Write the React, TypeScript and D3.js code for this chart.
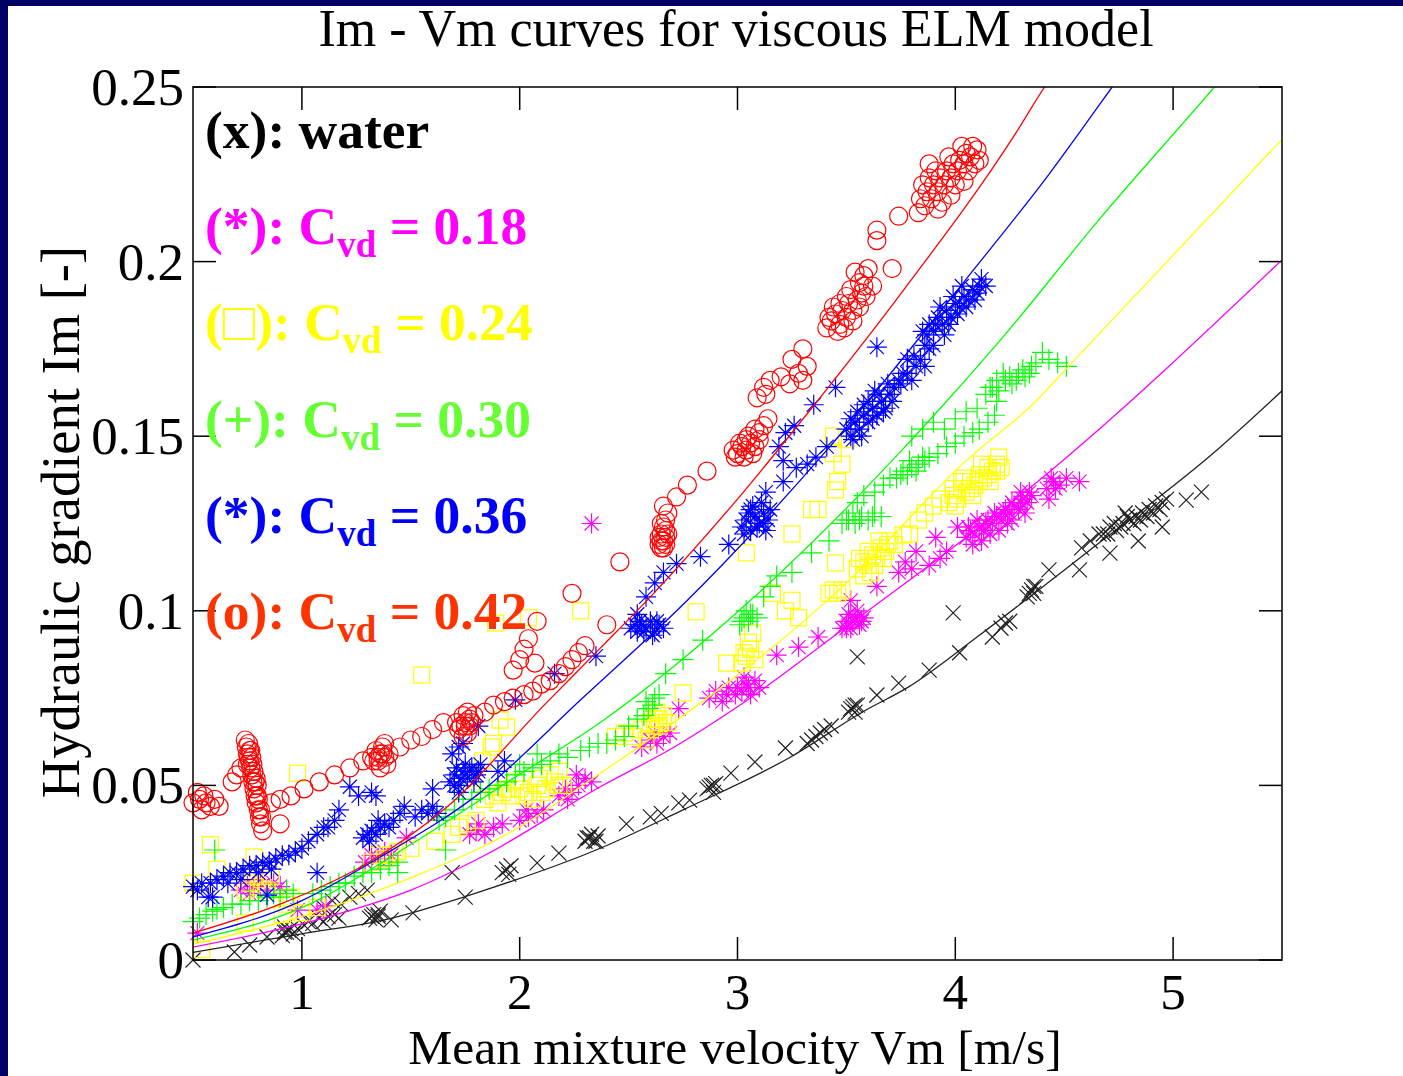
import React from 'react';
import * as d3 from 'd3';

type Pt = [number, number];

const W = 1403;
const H = 1076;

const xTicks = [1, 2, 3, 4, 5];
const yTicks = [0, 0.05, 0.1, 0.15, 0.2, 0.25];
const yTickLabels = ['0', '0.05', '0.1', '0.15', '0.2', '0.25'];

// measured points: [Vm, Im]
const water: Pt[] = [
  [0.5, 0.0], [0.69, 0.0023], [0.76, 0.0043], [0.84, 0.0066],
  [0.91, 0.007], [0.93, 0.008], [0.95, 0.009], [0.92, 0.0095], [0.96, 0.0075], [0.92, 0.008], [0.94, 0.0085],
  [0.98, 0.009], [1.01, 0.01], [1.03, 0.011], [1.05, 0.0105], [1.08, 0.012], [1.1, 0.011], [1.12, 0.0125], [1.15, 0.013], [1.17, 0.012],
  [1.1, 0.015], [1.14, 0.017], [1.18, 0.016], [1.22, 0.018], [1.26, 0.019], [1.3, 0.02],
  [1.31, 0.012], [1.33, 0.013], [1.35, 0.0125], [1.36, 0.014], [1.34, 0.0115], [1.32, 0.0125], [1.35, 0.013],
  [1.41, 0.0115], [1.51, 0.0135], [1.69, 0.025], [1.75, 0.018],
  [1.94, 0.026], [1.92, 0.025], [1.96, 0.027], [1.95, 0.0245], [2.08, 0.0278], [2.18, 0.0306],
  [2.3, 0.034], [2.32, 0.035], [2.34, 0.034], [2.36, 0.0355], [2.33, 0.036], [2.31, 0.035], [2.35, 0.034],
  [2.49, 0.039], [2.6, 0.041], [2.65, 0.042], [2.73, 0.045], [2.78, 0.0458],
  [2.86, 0.049], [2.88, 0.05], [2.89, 0.048], [2.9, 0.0505], [2.87, 0.0495], [2.89, 0.05],
  [2.97, 0.0535], [3.08, 0.0567], [3.22, 0.0607],
  [3.32, 0.062], [3.34, 0.063], [3.36, 0.064], [3.38, 0.065], [3.4, 0.066], [3.43, 0.067],
  [3.51, 0.071], [3.53, 0.0725], [3.55, 0.073], [3.54, 0.071], [3.52, 0.072], [3.54, 0.073],
  [3.55, 0.0868], [3.64, 0.0759], [3.74, 0.0793], [3.88, 0.083], [4.02, 0.088], [4.17, 0.0925],
  [4.21, 0.095], [4.23, 0.0965], [4.25, 0.097], [3.99, 0.0994],
  [4.33, 0.104], [4.35, 0.106], [4.37, 0.107], [4.36, 0.105], [4.34, 0.105], [4.36, 0.107],
  [4.43, 0.1117], [4.57, 0.1117], [4.71, 0.1165], [4.58, 0.118], [4.62, 0.12], [4.66, 0.122],
  [4.68, 0.122], [4.71, 0.124], [4.74, 0.123], [4.77, 0.125], [4.8, 0.126], [4.83, 0.127], [4.86, 0.128],
  [4.89, 0.129], [4.92, 0.13], [4.95, 0.131], [4.97, 0.132], [4.84, 0.12], [4.95, 0.124], [4.78, 0.128],
  [4.7, 0.122], [4.73, 0.125], [4.76, 0.124], [4.79, 0.127], [4.82, 0.125], [4.85, 0.126], [4.88, 0.127], [4.91, 0.128], [4.94, 0.129],
  [5.06, 0.1317], [5.13, 0.134],
];

const cvd18: Pt[] = [
  [0.52, 0.0077], [0.72, 0.02], [0.75, 0.022], [0.78, 0.021], [0.81, 0.023], [0.84, 0.02], [0.87, 0.022], [0.9, 0.021], [0.76, 0.019],
  [0.98, 0.0143], [1.07, 0.0143], [1.11, 0.0155], [1.29, 0.028], [1.32, 0.03], [1.35, 0.029], [1.38, 0.031], [1.41, 0.03], [1.48, 0.035],
  [1.77, 0.036], [1.8, 0.037], [1.84, 0.036], [1.88, 0.038], [1.92, 0.039], [1.81, 0.039],
  [2.0, 0.04], [2.04, 0.041], [2.08, 0.042], [2.11, 0.043], [2.03, 0.043],
  [2.18, 0.047], [2.21, 0.049], [2.24, 0.048], [2.27, 0.05], [2.3, 0.052], [2.33, 0.051], [2.26, 0.053], [2.22, 0.046],
  [2.56, 0.061], [2.6, 0.063], [2.63, 0.062], [2.66, 0.064], [2.69, 0.065], [2.62, 0.065],
  [2.33, 0.125], [2.73, 0.072],
  [2.87, 0.075], [2.9, 0.077], [2.93, 0.074], [2.96, 0.078], [2.99, 0.076], [3.02, 0.077], [3.04, 0.079], [3.06, 0.076], [3.08, 0.08], [3.1, 0.078], [3.03, 0.081],
  [3.0, 0.078], [3.05, 0.078], [2.95, 0.076],
  [3.18, 0.0873], [3.28, 0.0896], [3.37, 0.0925],
  [3.48, 0.095], [3.5, 0.097], [3.52, 0.095], [3.54, 0.098], [3.56, 0.096], [3.58, 0.098], [3.51, 0.099], [3.55, 0.1], [3.5, 0.095], [3.53, 0.097], [3.57, 0.097],
  [3.52, 0.103], [3.64, 0.107], [3.74, 0.111], [3.77, 0.114], [3.8, 0.112], [3.82, 0.117], [3.88, 0.113], [3.91, 0.121], [3.93, 0.115], [3.96, 0.117], [4.01, 0.124],
  [4.05, 0.121], [4.07, 0.123], [4.09, 0.122], [4.11, 0.124], [4.13, 0.123], [4.15, 0.126], [4.17, 0.125], [4.19, 0.127], [4.21, 0.126],
  [4.23, 0.129], [4.25, 0.128], [4.27, 0.13], [4.29, 0.129], [4.31, 0.132], [4.33, 0.131], [4.35, 0.133], [4.12, 0.12], [4.2, 0.123], [4.26, 0.126], [4.3, 0.134],
  [4.06, 0.124], [4.1, 0.126], [4.14, 0.125], [4.18, 0.128], [4.22, 0.128], [4.26, 0.131], [4.3, 0.131], [4.34, 0.134], [4.08, 0.119], [4.16, 0.122], [4.24, 0.125], [4.32, 0.128],
  [4.42, 0.135], [4.45, 0.137], [4.48, 0.136], [4.51, 0.138], [4.43, 0.132], [4.57, 0.137], [4.46, 0.135], [4.44, 0.138],
];

const cvd24: Pt[] = [
  [0.5, 0.022], [0.58, 0.033], [0.61, 0.026], [0.54, 0.003], [0.74, 0.0106], [0.74, 0.02], [0.76, 0.022], [0.78, 0.024], [0.8, 0.021],
  [0.82, 0.023], [0.84, 0.02], [0.86, 0.024], [0.78, 0.0295], [0.91, 0.013], [0.93, 0.016], [0.95, 0.018], [1.0, 0.0135], [1.07, 0.015], [0.98, 0.0535],
  [1.32, 0.028], [1.35, 0.03], [1.38, 0.029], [1.41, 0.03], [1.44, 0.031], [1.5, 0.032], [1.55, 0.0816], [1.61, 0.034], [1.69, 0.036], [1.72, 0.038], [1.76, 0.039], [1.8, 0.04],
  [1.78, 0.052], [1.83, 0.057], [1.87, 0.061], [1.88, 0.062], [1.91, 0.0687], [1.94, 0.0667], [1.89, 0.0965], [2.04, 0.098], [2.28, 0.1],
  [1.84, 0.046], [1.88, 0.047], [1.92, 0.048], [1.96, 0.047], [2.0, 0.049], [2.04, 0.048], [2.08, 0.05], [2.12, 0.049], [2.16, 0.051], [2.2, 0.05], [1.9, 0.045], [1.98, 0.051], [2.06, 0.046],
  [1.94, 0.049], [2.02, 0.047], [2.1, 0.048], [2.18, 0.05],
  [2.09, 0.052], [2.14, 0.053], [2.18, 0.054],
  [2.44, 0.064], [2.48, 0.065], [2.52, 0.064], [2.56, 0.066], [2.6, 0.068], [2.62, 0.067], [2.64, 0.069], [2.66, 0.07], [2.68, 0.068], [2.63, 0.071], [2.58, 0.063],
  [2.6, 0.066], [2.64, 0.067], [2.66, 0.068], [2.62, 0.069],
  [2.75, 0.0765], [2.95, 0.085],
  [3.02, 0.085], [3.04, 0.087], [3.06, 0.089], [3.08, 0.086], [3.05, 0.091], [3.03, 0.088], [3.07, 0.0936],
  [3.16, 0.105], [3.22, 0.1], [3.25, 0.103], [3.28, 0.098],
  [3.42, 0.105], [3.44, 0.106], [3.46, 0.105], [3.48, 0.106],
  [2.81, 0.0997], [3.04, 0.1166], [3.25, 0.122], [3.37, 0.129], [3.45, 0.1346], [3.44, 0.15], [3.5, 0.149], [3.44, 0.145], [3.48, 0.142], [3.46, 0.137], [3.45, 0.1137],
  [3.55, 0.112], [3.58, 0.114], [3.6, 0.113], [3.62, 0.116], [3.64, 0.115], [3.66, 0.118], [3.68, 0.117], [3.7, 0.12], [3.58, 0.11], [3.65, 0.12], [3.72, 0.119],
  [3.56, 0.115], [3.6, 0.117], [3.63, 0.113], [3.67, 0.115], [3.69, 0.119], [3.61, 0.111],
  [3.76, 0.1217], [3.79, 0.122], [3.83, 0.126], [3.86, 0.128], [3.9, 0.13], [3.93, 0.132], [3.34, 0.129],
  [3.97, 0.131], [3.99, 0.133], [4.01, 0.132], [4.03, 0.135], [4.05, 0.134], [4.07, 0.137], [4.09, 0.136], [4.11, 0.139], [4.13, 0.138],
  [4.15, 0.141], [4.17, 0.14], [4.19, 0.142], [4.21, 0.141], [4.04, 0.138], [4.12, 0.142],
  [3.99, 0.135], [4.03, 0.137], [4.07, 0.135], [4.11, 0.137], [4.15, 0.139], [4.19, 0.14], [4.0, 0.13], [4.08, 0.133], [4.16, 0.137], [4.2, 0.144],
];

const cvd30: Pt[] = [
  [0.5, 0.011], [0.53, 0.012], [0.56, 0.013], [0.59, 0.014], [0.61, 0.0145], [0.6, 0.0315], [0.64, 0.015], [0.68, 0.016], [0.72, 0.016],
  [0.76, 0.017], [0.8, 0.017], [0.84, 0.018], [0.87, 0.019], [0.9, 0.018], [0.93, 0.02], [0.96, 0.019],
  [1.05, 0.019], [1.09, 0.02], [1.13, 0.021], [1.17, 0.022], [1.2, 0.022], [1.24, 0.024], [1.28, 0.025], [1.32, 0.025], [1.36, 0.026],
  [1.4, 0.027], [1.44, 0.025], [1.44, 0.028], [1.66, 0.0315],
  [1.63, 0.04], [1.66, 0.041], [1.7, 0.043], [1.74, 0.046], [1.78, 0.046], [1.82, 0.048], [1.86, 0.049], [1.9, 0.05], [1.94, 0.051],
  [1.98, 0.053], [2.02, 0.054], [2.06, 0.055], [2.1, 0.056], [2.14, 0.057], [2.18, 0.059], [2.22, 0.058], [2.0, 0.056], [2.08, 0.059],
  [2.28, 0.06], [2.32, 0.061], [2.36, 0.062], [2.4, 0.062], [2.44, 0.063], [2.48, 0.064],
  [2.5, 0.067], [2.54, 0.069], [2.57, 0.07], [2.59, 0.072], [2.61, 0.073], [2.62, 0.075], [2.64, 0.076], [2.58, 0.074],
  [2.67, 0.082], [2.75, 0.086], [2.84, 0.0916],
  [3.01, 0.096], [3.03, 0.098], [3.05, 0.097], [3.07, 0.099], [3.09, 0.098], [3.04, 0.1], [3.02, 0.097], [3.06, 0.099],
  [3.12, 0.104], [3.15, 0.107], [3.18, 0.11], [3.25, 0.111], [3.34, 0.1166], [3.42, 0.12],
  [3.48, 0.125], [3.51, 0.126], [3.54, 0.125], [3.57, 0.127], [3.6, 0.126], [3.63, 0.128], [3.66, 0.127], [3.53, 0.128],
  [3.5, 0.126], [3.56, 0.126], [3.62, 0.127],
  [3.55, 0.131], [3.58, 0.133], [3.63, 0.134], [3.67, 0.136], [3.7, 0.138],
  [3.73, 0.138], [3.76, 0.14], [3.78, 0.139], [3.8, 0.141], [3.83, 0.142], [3.86, 0.143], [3.88, 0.144], [3.79, 0.143],
  [3.75, 0.139], [3.82, 0.14], [3.85, 0.144],
  [3.92, 0.145], [3.96, 0.147], [4.0, 0.148], [4.04, 0.15], [4.08, 0.151], [4.11, 0.152], [4.15, 0.154], [4.18, 0.156], [4.19, 0.16],
  [3.8, 0.15], [3.85, 0.152], [3.9, 0.154], [3.95, 0.152], [4.0, 0.155], [4.05, 0.157], [4.1, 0.158],
  [4.14, 0.162], [4.17, 0.164], [4.2, 0.163], [4.23, 0.166], [4.26, 0.165], [4.29, 0.168], [4.32, 0.167], [4.35, 0.17], [4.37, 0.171], [4.22, 0.168],
  [4.16, 0.164], [4.19, 0.166], [4.25, 0.167], [4.28, 0.166], [4.31, 0.169], [4.34, 0.168],
  [4.4, 0.174], [4.43, 0.172], [4.47, 0.171], [4.51, 0.17],
];

const cvd36: Pt[] = [
  [0.5, 0.021], [0.52, 0.02], [0.54, 0.022], [0.57, 0.018], [0.59, 0.018],
  [0.58, 0.022], [0.61, 0.023], [0.64, 0.024], [0.67, 0.025], [0.7, 0.025], [0.73, 0.026], [0.76, 0.027], [0.79, 0.027], [0.82, 0.028],
  [0.85, 0.028], [0.88, 0.029], [0.91, 0.03], [0.94, 0.03], [0.97, 0.031], [0.66, 0.022], [0.72, 0.023], [0.8, 0.025], [0.86, 0.026], [0.84, 0.0186],
  [1.0, 0.032], [1.03, 0.034], [1.07, 0.025], [1.07, 0.036], [1.1, 0.038], [1.12, 0.038], [1.15, 0.04], [1.17, 0.043], [1.22, 0.0496],
  [1.26, 0.047], [1.32, 0.048], [1.34, 0.047],
  [1.28, 0.035], [1.3, 0.036], [1.32, 0.037], [1.34, 0.036], [1.36, 0.038], [1.38, 0.039], [1.4, 0.038], [1.31, 0.034], [1.35, 0.04],
  [1.42, 0.04], [1.45, 0.042], [1.47, 0.044], [1.52, 0.041], [1.55, 0.043], [1.58, 0.042], [1.6, 0.044], [1.62, 0.042], [1.6, 0.049], [1.72, 0.048],
  [1.68, 0.051], [1.7, 0.053], [1.72, 0.05], [1.74, 0.054], [1.76, 0.052], [1.78, 0.055], [1.8, 0.053], [1.82, 0.056], [1.75, 0.056], [1.71, 0.055], [1.79, 0.051],
  [1.7, 0.05], [1.73, 0.052], [1.77, 0.054], [1.81, 0.054],
  [1.69, 0.059], [1.72, 0.061], [1.74, 0.062], [1.81, 0.067], [1.9, 0.054], [1.93, 0.057],
  [1.98, 0.0745], [2.16, 0.082], [2.35, 0.087],
  [2.51, 0.095], [2.54, 0.094], [2.56, 0.096], [2.58, 0.095], [2.6, 0.097], [2.62, 0.094], [2.64, 0.096], [2.66, 0.095], [2.55, 0.097], [2.61, 0.093],
  [2.53, 0.096], [2.57, 0.094], [2.63, 0.097],
  [2.54, 0.099], [2.58, 0.104], [2.62, 0.108], [2.66, 0.111], [2.72, 0.1135], [2.83, 0.1155], [2.96, 0.119],
  [3.02, 0.124], [3.04, 0.126], [3.06, 0.123], [3.08, 0.127], [3.1, 0.125], [3.12, 0.128], [3.14, 0.126], [3.07, 0.13], [3.11, 0.131], [3.05, 0.128], [3.13, 0.123],
  [3.03, 0.122], [3.06, 0.129], [3.09, 0.124], [3.12, 0.125], [3.15, 0.129],
  [3.13, 0.134], [3.21, 0.137], [3.21, 0.143], [3.27, 0.141], [3.32, 0.142], [3.36, 0.144], [3.41, 0.147], [3.19, 0.147], [3.22, 0.151],
  [3.26, 0.153], [3.35, 0.159], [3.45, 0.164], [3.64, 0.1755],
  [3.5, 0.152], [3.52, 0.15], [3.54, 0.154], [3.56, 0.152], [3.58, 0.156], [3.6, 0.154], [3.62, 0.158], [3.64, 0.156], [3.66, 0.16],
  [3.68, 0.158], [3.7, 0.162], [3.72, 0.164], [3.55, 0.157], [3.6, 0.16], [3.65, 0.162], [3.53, 0.149], [3.74, 0.166],
  [3.52, 0.155], [3.57, 0.15], [3.62, 0.155], [3.67, 0.157], [3.71, 0.16], [3.58, 0.159], [3.63, 0.163], [3.69, 0.165],
  [3.75, 0.165], [3.78, 0.168], [3.8, 0.166], [3.82, 0.17], [3.84, 0.172], [3.86, 0.17], [3.88, 0.175], [3.9, 0.176], [3.78, 0.172],
  [3.76, 0.168], [3.81, 0.173], [3.86, 0.176],
  [3.85, 0.18], [3.88, 0.182], [3.9, 0.18], [3.92, 0.184], [3.94, 0.182], [3.96, 0.186], [3.98, 0.184], [4.0, 0.188], [4.02, 0.187],
  [4.04, 0.19], [4.06, 0.189], [4.08, 0.192], [4.1, 0.191], [4.12, 0.195], [4.14, 0.193], [3.95, 0.179],
  [3.87, 0.179], [3.91, 0.182], [3.97, 0.182], [4.01, 0.185], [4.05, 0.187], [4.09, 0.189], [3.93, 0.187], [3.99, 0.19], [4.03, 0.193], [4.11, 0.193],
];

const cvd42: Pt[] = [
  [0.5, 0.045], [0.52, 0.048], [0.53, 0.046], [0.55, 0.047], [0.56, 0.045], [0.58, 0.044], [0.6, 0.046], [0.62, 0.044], [0.54, 0.043],
  [0.68, 0.051], [0.7, 0.053], [0.72, 0.055],
  [0.74, 0.063], [0.745, 0.061], [0.75, 0.059], [0.755, 0.062], [0.76, 0.057], [0.765, 0.055], [0.77, 0.053], [0.77, 0.058], [0.775, 0.051],
  [0.78, 0.049], [0.78, 0.054], [0.785, 0.047], [0.79, 0.045], [0.795, 0.05], [0.8, 0.043], [0.805, 0.041], [0.81, 0.039], [0.82, 0.037],
  [0.76, 0.06], [0.75, 0.056], [0.79, 0.052], [0.9, 0.039],
  [0.755, 0.058], [0.765, 0.06], [0.775, 0.056], [0.785, 0.051], [0.795, 0.047], [0.8, 0.046], [0.81, 0.043], [0.815, 0.041],
  [0.86, 0.045], [0.9, 0.046], [0.95, 0.047], [1.01, 0.049], [1.08, 0.051], [1.15, 0.053], [1.22, 0.055], [1.28, 0.057],
  [1.32, 0.058], [1.34, 0.06], [1.35, 0.057], [1.36, 0.059], [1.37, 0.061], [1.38, 0.058], [1.39, 0.056], [1.4, 0.059], [1.36, 0.055], [1.38, 0.062],
  [1.35, 0.058], [1.37, 0.059], [1.33, 0.057],
  [1.45, 0.061], [1.5, 0.063], [1.55, 0.064], [1.6, 0.066], [1.65, 0.068],
  [1.71, 0.068], [1.72, 0.066], [1.74, 0.07], [1.75, 0.067], [1.76, 0.065], [1.77, 0.069], [1.78, 0.068], [1.74, 0.064], [1.79, 0.07], [1.76, 0.071],
  [1.75, 0.068], [1.73, 0.067], [1.77, 0.067],
  [1.84, 0.071], [1.88, 0.073], [1.93, 0.074], [1.97, 0.075], [2.02, 0.076], [2.06, 0.077], [2.1, 0.079], [2.14, 0.08], [2.18, 0.082],
  [2.21, 0.084], [2.24, 0.086], [2.27, 0.088], [2.3, 0.09],
  [1.97, 0.083], [2.0, 0.086], [2.02, 0.089], [2.04, 0.092], [2.07, 0.085],
  [2.08, 0.097], [2.24, 0.105], [2.4, 0.096], [2.46, 0.114],
  [2.72, 0.1326], [2.77, 0.136], [2.86, 0.14],
  [2.64, 0.119], [2.65, 0.118], [2.66, 0.12], [2.67, 0.119], [2.65, 0.122], [2.66, 0.124], [2.67, 0.126], [2.68, 0.128], [2.66, 0.13], [2.64, 0.121], [2.68, 0.122],
  [2.65, 0.12], [2.66, 0.118], [2.67, 0.121], [2.65, 0.125], [2.67, 0.123],
  [2.98, 0.146], [3.0, 0.145], [3.02, 0.147], [3.04, 0.146], [3.06, 0.148], [3.08, 0.147], [3.05, 0.15], [3.08, 0.152], [3.1, 0.149], [3.12, 0.153], [3.14, 0.155], [3.03, 0.144],
  [3.01, 0.148], [3.04, 0.149], [3.07, 0.145], [3.1, 0.151], [2.99, 0.144],
  [3.09, 0.161], [3.12, 0.164], [3.15, 0.166], [3.2, 0.167], [3.24, 0.165], [3.28, 0.168], [3.32, 0.17], [3.3, 0.166], [3.25, 0.172], [3.3, 0.175], [3.13, 0.162],
  [3.41, 0.181], [3.43, 0.183], [3.45, 0.185], [3.47, 0.182], [3.48, 0.186], [3.5, 0.184], [3.51, 0.188], [3.53, 0.186], [3.55, 0.189],
  [3.57, 0.191], [3.59, 0.19], [3.46, 0.18], [3.52, 0.192], [3.56, 0.194], [3.6, 0.198], [3.58, 0.196], [3.54, 0.197], [3.71, 0.198],
  [3.64, 0.206], [3.64, 0.209], [3.74, 0.213], [3.44, 0.187], [3.62, 0.193],
  [3.42, 0.184], [3.47, 0.188], [3.5, 0.19], [3.53, 0.183], [3.56, 0.187], [3.49, 0.181], [3.58, 0.193],
  [3.84, 0.218], [3.86, 0.216], [3.87, 0.22], [3.89, 0.218], [3.9, 0.222], [3.92, 0.22], [3.93, 0.224], [3.95, 0.222], [3.96, 0.226],
  [3.98, 0.224], [3.99, 0.228], [4.01, 0.226], [4.02, 0.229], [4.04, 0.228], [4.05, 0.231], [4.07, 0.23], [4.08, 0.233], [4.1, 0.232],
  [3.88, 0.224], [3.94, 0.217], [4.0, 0.222], [4.06, 0.226],
  [3.85, 0.222], [3.88, 0.228], [3.91, 0.226], [3.97, 0.23], [4.03, 0.233], [4.09, 0.228], [3.83, 0.214], [3.92, 0.215], [3.98, 0.219], [4.04, 0.223], [4.11, 0.229],
];

// ELM model curves
const fitWater: Pt[] = [[0.5, 0.0022], [1.0, 0.0075], [1.38, 0.0115], [1.84, 0.02], [2.37, 0.032], [2.75, 0.043], [3.24, 0.058], [3.59, 0.0716], [3.78, 0.078], [4.1, 0.0925], [4.61, 0.117], [5.2, 0.146], [5.5, 0.163]];
const fit18: Pt[] = [[0.5, 0.0037], [1.07, 0.0115], [1.5, 0.02], [1.84, 0.03], [2.37, 0.0496], [2.71, 0.061], [3.0, 0.0725], [3.48, 0.0945], [4.43, 0.1397], [5.5, 0.2005]];
const fit24: Pt[] = [[0.5, 0.0045], [1.0, 0.0125], [1.51, 0.0238], [1.97, 0.037], [2.37, 0.0535], [2.5, 0.059], [3.5, 0.108], [4.05, 0.143], [4.37, 0.16], [4.52, 0.17], [5.5, 0.235]];
const fit30: Pt[] = [[0.5, 0.0057], [1.0, 0.015], [1.51, 0.0335], [1.97, 0.052], [2.37, 0.068], [3.06, 0.103], [3.74, 0.145], [3.96, 0.16], [4.2, 0.177], [4.66, 0.212], [5.19, 0.25], [5.3, 0.258]];
const fit36: Pt[] = [[0.5, 0.0066], [1.0, 0.017], [1.36, 0.0295], [1.82, 0.048], [2.28, 0.0745], [2.77, 0.103], [3.41, 0.146], [4.05, 0.195], [4.43, 0.225], [4.72, 0.25], [4.8, 0.257]];
const fit42: Pt[] = [[0.5, 0.0077], [0.9, 0.016], [1.28, 0.027], [1.67, 0.044], [2.12, 0.0735], [2.37, 0.0893], [2.6, 0.104], [3.0, 0.132], [3.34, 0.158], [3.74, 0.19], [4.28, 0.237], [4.41, 0.25], [4.5, 0.258]];

const legendLabels = ['(x): water', '(*): C', '(\u25a1): C', '(+): C', '(*): C', '(o): C'];
const legendValues = ['', '0.18', '0.24', '0.30', '0.36', '0.42'];
const legendColors = ['#000000', '#ff00ff', '#ffff00', '#66ff33', '#0000ff', '#ff3300'];

const x = d3.scaleLinear().domain([0.5, 5.5]).range([193, 1282]);
const y = d3.scaleLinear().domain([0, 0.25]).range([960, 87]);

const line = d3.line<Pt>().x(d => x(d[0])).y(d => y(d[1])).curve(d3.curveMonotoneX);

function marker(kind: string, cx: number, cy: number, color: string, key: number) {
  if (kind === 'o') return <circle key={key} cx={cx} cy={cy} r={9} fill="none" stroke={color} strokeWidth={1.2} />;
  if (kind === 's') return <rect key={key} x={cx - 8} y={cy - 8} width={16} height={16} fill="none" stroke={color} strokeWidth={1.2} />;
  let p = '';
  if (kind === '+') {
    const s = 10.5;
    p = `M${cx - s},${cy}H${cx + s}M${cx},${cy - s}V${cy + s}`;
  } else if (kind === 'x') {
    const s = 7.5;
    p = `M${cx - s},${cy - s}L${cx + s},${cy + s}M${cx - s},${cy + s}L${cx + s},${cy - s}`;
  } else {
    const s = 10, d = 7;
    p = `M${cx - s},${cy}H${cx + s}M${cx},${cy - s}V${cy + s}M${cx - d},${cy - d}L${cx + d},${cy + d}M${cx - d},${cy + d}L${cx + d},${cy - d}`;
  }
  return <path key={key} d={p} fill="none" stroke={color} strokeWidth={1.2} />;
}

const series = [
  { pts: water, kind: 'x', color: '#222222', fit: fitWater },
  { pts: cvd18, kind: '*', color: '#ff00ff', fit: fit18 },
  { pts: cvd24, kind: 's', color: '#ffff00', fit: fit24 },
  { pts: cvd30, kind: '+', color: '#00ff00', fit: fit30 },
  { pts: cvd36, kind: '*', color: '#0000ff', fit: fit36 },
  { pts: cvd42, kind: 'o', color: '#ff0000', fit: fit42 },
];

const serif = '"Liberation Serif", "Times New Roman", serif';

export default function App() {
  return (
    <svg width={W} height={H} style={{ position: 'absolute', left: 0, top: 0 }} fontFamily={serif}>
      <rect x={0} y={0} width={W} height={H} fill="#000066" />
      <rect x={8} y={6} width={W - 8} height={H - 6} fill="#ffffff" />
      <defs>
        <clipPath id="plotClip">
          <rect x={193} y={87} width={1089} height={873} />
        </clipPath>
      </defs>

      <text x={736} y={46} fontSize={52} textAnchor="middle">Im - Vm curves for viscous ELM model</text>

      {series.map((s, i) => (
        <g key={'m' + i}>
          {s.pts.map((d, j) => marker(s.kind, x(d[0]), y(d[1]), s.color, j))}
        </g>
      ))}

      <g clipPath="url(#plotClip)">
        {series.map((s, i) => (
          <path key={'f' + i} d={line(s.fit) || ''} fill="none" stroke={s.color} strokeWidth={1.3} />
        ))}
      </g>

      {/* frame and inward ticks */}
      <rect x={193} y={87} width={1089} height={873} fill="none" stroke="#000" strokeWidth={1.5} />
      {xTicks.map(t => (
        <g key={'xt' + t}>
          <line x1={x(t)} x2={x(t)} y1={960} y2={937} stroke="#000" strokeWidth={1.5} />
          <line x1={x(t)} x2={x(t)} y1={87} y2={110} stroke="#000" strokeWidth={1.5} />
          <text x={x(t)} y={1009} fontSize={51} textAnchor="middle">{t}</text>
        </g>
      ))}
      {yTicks.map((t, i) => (
        <g key={'yt' + t}>
          <line x1={193} x2={216} y1={y(t)} y2={y(t)} stroke="#000" strokeWidth={1.5} />
          <line x1={1282} x2={1259} y1={y(t)} y2={y(t)} stroke="#000" strokeWidth={1.5} />
          <text x={184} y={y(t) + 18} fontSize={53} textAnchor="end">{yTickLabels[i]}</text>
        </g>
      ))}

      <text x={735} y={1064} fontSize={49.5} textAnchor="middle">Mean mixture velocity Vm [m/s]</text>
      <text transform="translate(79,522) rotate(-90)" fontSize={54.5} textAnchor="middle">Hydraulic gradient Im [-]</text>

      {legendLabels.map((lab, i) => (
        <text key={'lg' + i} x={205} y={148 + i * 96.2} fontSize={53.5} fontWeight="bold" fill={legendColors[i]}>
          <tspan>{lab}</tspan>
          {legendValues[i] !== '' && <tspan fontSize={37} dy={13}>vd</tspan>}
          {legendValues[i] !== '' && <tspan dy={-13}>{' = ' + legendValues[i]}</tspan>}
        </text>
      ))}
    </svg>
  );
}
